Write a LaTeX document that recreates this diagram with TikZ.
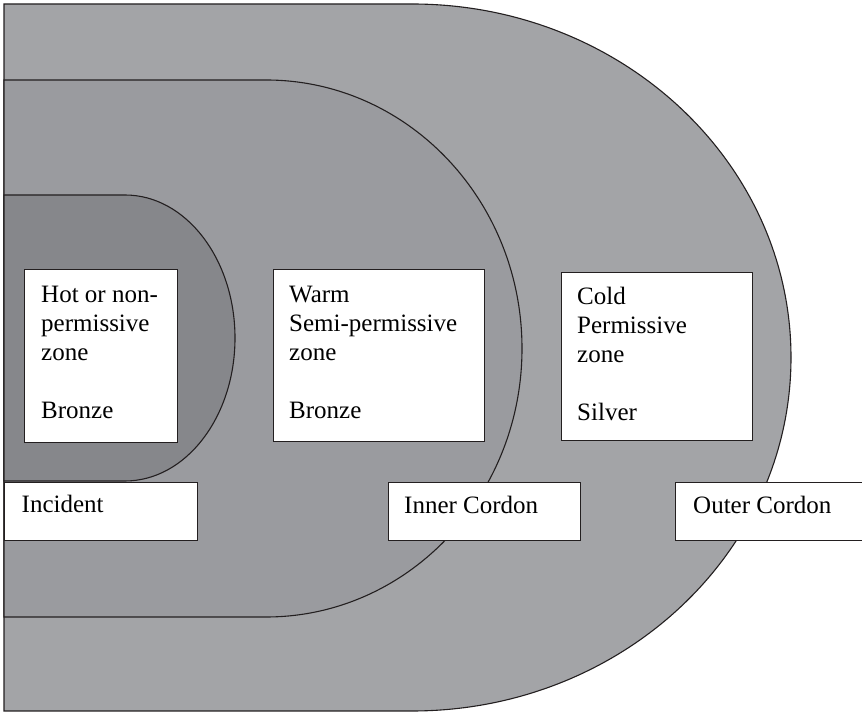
\documentclass[tikz,border=0pt]{standalone}
\usepackage{fontspec}
\setmainfont{Liberation Serif}
\usepackage{tikz}
\usetikzlibrary{positioning}
\definecolor{outerzone}{HTML}{A3A4A7}
\definecolor{innerzone}{HTML}{9A9B9F}
\definecolor{hotzone}{HTML}{86878B}
\definecolor{edge}{HTML}{231F20}

\begin{document}
\begin{tikzpicture}[x=1pt, y=1pt,
    zone/.style={draw=edge, line width=1.1pt},
    zonebox/.style={draw=edge, fill=white, line width=1.2pt, inner sep=0pt, anchor=north west},
    zonetext/.style={inner sep=0pt, align=left, anchor=north west, font=\fontsize{25}{29}\selectfont},
    cordontext/.style={inner sep=0pt, anchor=base west, font=\fontsize{25}{29}\selectfont}]
    \useasboundingbox (0,0) rectangle (862,712);
    \clip (0,0) rectangle (862,712);

    % Outer cordon (cold zone)
    \draw[zone, fill=outerzone] (4,708) -- (412,708)
        arc[start angle=90, end angle=-90, x radius=379, y radius=353.5] -- (4,1) -- cycle;
    % Inner cordon (warm zone)
    \draw[zone, fill=innerzone] (4,632) -- (266,632)
        arc[start angle=90, end angle=-90, x radius=256, y radius=268.5] -- (4,95) -- cycle;
    % Incident (hot zone)
    \draw[zone, fill=hotzone] (4,517) -- (125,517)
        arc[start angle=90, end angle=-90, x radius=110, y radius=143] -- (4,231) -- cycle;

    % Zone boxes
    \node[zonebox, minimum width=153pt, minimum height=173pt] (hot) at (24,443) {};
    \node[zonebox, minimum width=211pt, minimum height=172pt] (warm) at (273,443) {};
    \node[zonebox, minimum width=191pt, minimum height=168pt] (cold) at (561,440) {};
    \node[zonetext] (hottext) at (41,426.5) {Hot or non-\\permissive\\zone\\[29pt]Bronze};
    \node[zonetext] (warmtext) at (289,426.5) {Warm\\Semi-permissive\\zone\\[29pt]Bronze};
    \node[zonetext] (coldtext) at (577,425) {Cold\\Permissive\\zone\\[29pt]Silver};

    % Cordon labels
    \node[zonebox, minimum width=193pt, minimum height=58pt] (incident) at (4,230) {};
    \node[zonebox, minimum width=192pt, minimum height=58pt] (inner) at (388,230) {};
    \node[zonebox, minimum width=205pt, minimum height=58pt] (outer) at (675,230) {};
    \node[cordontext] (incidenttext) at (21.5,199) {Incident};
    \node[cordontext] (innertext) at (404,198) {Inner Cordon};
    \node[cordontext] (outertext) at (693,198) {Outer Cordon};
\end{tikzpicture}
\end{document}
